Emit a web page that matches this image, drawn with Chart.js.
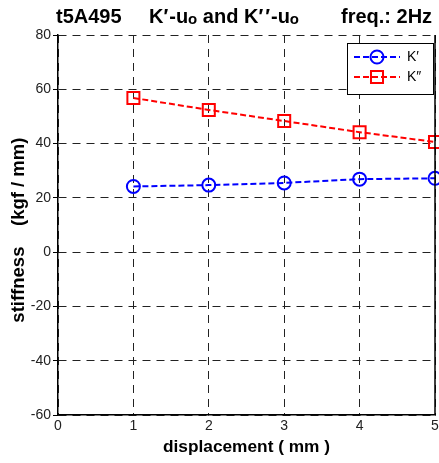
<!DOCTYPE html>
<html>
<head>
<meta charset="utf-8">
<script src="https://cdn.jsdelivr.net/npm/chart.js@4.4.1/dist/chart.umd.min.js"></script>
<style>
  html, body { margin: 0; padding: 0; background: #fff; }
  #wrap { width: 439px; height: 463px; }
</style>
</head>
<body>
<div id="wrap"><canvas id="stiffChart" width="439" height="463"></canvas></div>
<script>
// displacement amplitudes (mm)
const displacement = [1, 2, 3, 4, 5];
// storage stiffness K' and loss stiffness K'' (kgf/mm)
const kStorage = [24.2, 24.7, 25.5, 26.9, 27.2];
const kLoss = [56.8, 52.4, 48.3, 44.2, 40.6];
const seriesNames = ['K\u2032', 'K\u2033'];
const yTicks = [-60, -40, -20, 0, 20, 40, 60, 80];
const xTicks = [0, 1, 2, 3, 4, 5];

const FONT = 'Arial, "Liberation Sans", Helvetica, sans-serif';

function toPoints(xs, ys) {
    return xs.map((x, i) => ({ x: x, y: ys[i] }));
}

// title line with subscripted "o", drawn piece by piece
function drawRuns(ctx, x, y, runs) {
    runs.forEach(r => {
        ctx.font = (r.sub ? 'bold 15px ' : 'bold 20px ') + FONT;
        ctx.fillText(r.t, x, y + (r.sub ? 1 : 0));
        x += ctx.measureText(r.t).width + (r.gap || 0);
    });
    return x;
}

const decorations = {
    id: 'decorations',
    afterDraw(chart) {
        const ctx = chart.ctx;
        const xs = chart.scales.x;
        const ys = chart.scales.y;
        ctx.save();

        // solid frame on the right edge
        ctx.strokeStyle = '#000';
        ctx.lineWidth = 1.5;
        ctx.setLineDash([]);
        ctx.beginPath();
        const xr = xs.getPixelForValue(5);
        ctx.moveTo(xr, ys.top);
        ctx.lineTo(xr, ys.bottom);
        ctx.stroke();

        // title
        ctx.fillStyle = '#000';
        ctx.textBaseline = 'alphabetic';
        ctx.textAlign = 'left';
        drawRuns(ctx, 56, 23, [{ t: 't5A495' }]);
        drawRuns(ctx, 149, 23, [
            { t: 'K' }, { t: '\u2032', gap: 1 }, { t: '-u' }, { t: 'o', sub: true },
            { t: ' and K' }, { t: '\u2032', gap: 2 }, { t: '\u2032', gap: 1 }, { t: '-u' }, { t: 'o', sub: true }
        ]);
        drawRuns(ctx, 341, 23, [{ t: 'freq.: 2Hz' }]);

        // legend box
        const bx = 347, by = 43, bw = 86, bh = 51;
        ctx.fillStyle = '#fff';
        ctx.fillRect(bx, by, bw, bh);
        ctx.strokeStyle = '#000';
        ctx.lineWidth = 1;
        ctx.strokeRect(bx + 0.5, by + 0.5, bw, bh);

        chart.data.datasets.forEach((ds, i) => {
            const ly = by + 14 + i * 20;
            ctx.strokeStyle = ds.borderColor;
            ctx.fillStyle = 'rgba(0,0,0,0)';
            ctx.lineWidth = 2;
            ctx.setLineDash(ds.borderDash);
            ctx.beginPath();
            ctx.moveTo(bx + 7, ly);
            ctx.lineTo(bx + 53, ly);
            ctx.stroke();
            ctx.setLineDash([]);
            Chart.helpers.drawPoint(ctx, {
                pointStyle: ds.pointStyle,
                radius: ds.pointRadius,
                borderWidth: 2,
                rotation: 0
            }, bx + 30, ly);
            ctx.fillStyle = '#000';
            ctx.font = '14px ' + FONT;
            ctx.textBaseline = 'middle';
            ctx.fillText(ds.label, bx + 60, ly);
        });
        ctx.restore();
    }
};

const ctx = document.getElementById('stiffChart').getContext('2d');
new Chart(ctx, {
    type: 'line',
    data: {
        datasets: [
            {
                label: seriesNames[0],
                data: toPoints(displacement, kStorage),
                borderColor: '#0000ff',
                backgroundColor: 'rgba(0,0,0,0)',
                borderWidth: 2,
                borderDash: [6, 3],
                pointStyle: 'circle',
                pointRadius: 6.5,
                pointBorderWidth: 2,
                pointBackgroundColor: 'rgba(0,0,0,0)',
                tension: 0
            },
            {
                label: seriesNames[1],
                data: toPoints(displacement, kLoss),
                borderColor: '#ff0000',
                backgroundColor: 'rgba(0,0,0,0)',
                borderWidth: 2,
                borderDash: [6, 3],
                pointStyle: 'rect',
                pointRadius: 8.5,
                pointBorderWidth: 2,
                pointBackgroundColor: 'rgba(0,0,0,0)',
                tension: 0
            }
        ]
    },
    options: {
        responsive: false,
        animation: false,
        clip: false,
        layout: { autoPadding: false, padding: { top: 35, right: 4, left: 0, bottom: 0 } },
        plugins: {
            legend: { display: false },
            title: { display: false },
            tooltip: { enabled: false }
        },
        scales: {
            x: {
                type: 'linear',
                min: 0,
                max: 5,
                afterBuildTicks: axis => { axis.ticks = xTicks.map(v => ({ value: v })); },
                afterFit: axis => {
                    axis.height = 48;
                    axis.paddingLeft = 0;
                    axis.paddingRight = 0;
                },
                border: { display: true, color: '#000', width: 1.5, dash: [8, 6] },
                grid: {
                    color: '#222',
                    lineWidth: 1,
                    tickLength: 0
                },
                ticks: {
                    color: '#222',
                    font: { family: FONT, size: 14 },
                    padding: 3,
                    maxRotation: 0
                },
                title: {
                    display: true,
                    text: 'displacement ( mm )',
                    color: '#000',
                    font: { family: FONT, size: 17.3, weight: 'bold' },
                    padding: { top: 0, bottom: 5 }
                }
            },
            y: {
                min: -60,
                max: 80,
                afterBuildTicks: axis => { axis.ticks = yTicks.map(v => ({ value: v })); },
                afterFit: axis => { axis.width = 58; },
                border: { display: true, color: '#000', width: 1.5, dash: [8, 6] },
                grid: {
                    color: '#222',
                    lineWidth: 1,
                    tickLength: 5,
                    tickBorderDash: [],
                    tickColor: '#000'
                },
                ticks: {
                    color: '#222',
                    font: { family: FONT, size: 14 },
                    padding: 2
                },
                title: {
                    display: true,
                    text: 'stiffness\u00a0\u00a0\u00a0\u00a0(kgf / mm)\u00a0\u00a0',
                    color: '#000',
                    font: { family: FONT, size: 18.5, weight: 'bold' },
                    padding: { top: 8, bottom: 0 }
                }
            }
        }
    },
    plugins: [decorations]
});
</script>
</body>
</html>
